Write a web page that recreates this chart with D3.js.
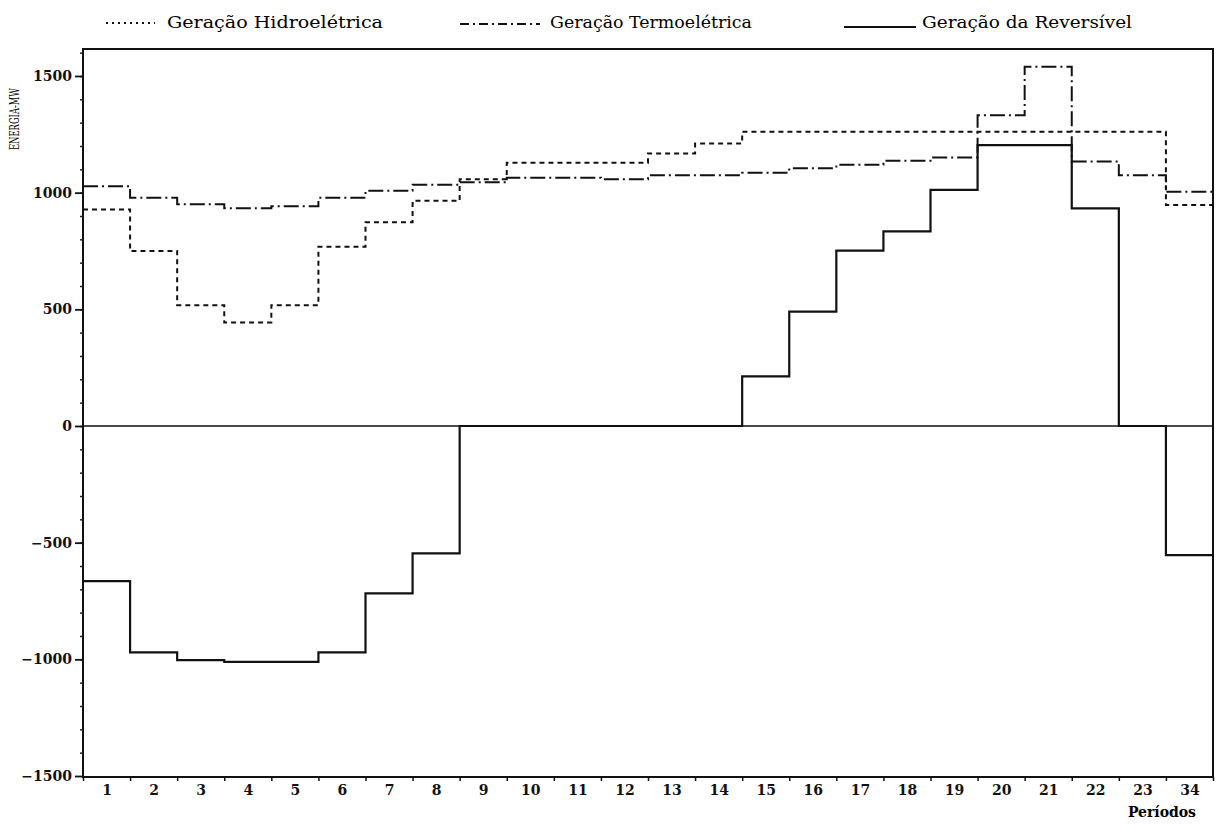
<!DOCTYPE html>
<html>
<head>
<meta charset="utf-8">
<script src="https://cdn.jsdelivr.net/npm/d3@7"></script>
<style>
  body { margin: 0; background: #fff; }
  svg { display: block; }
</style>
</head>
<body>
<svg width="1216" height="829"></svg>
<script>
// dados (MW por periodo)
var periodos = ["1","2","3","4","5","6","7","8","9","10","11","12","13","14","15","16","17","18","19","20","21","22","23","34"];
var hidro = [928, 750, 518, 444, 518, 768, 873, 965, 1058, 1128, 1128, 1128, 1168, 1211, 1261, 1261, 1261, 1261, 1261, 1261, 1261, 1261, 1261, 947];
var termo = [1028, 978, 950, 933, 942, 978, 1008, 1034, 1045, 1064, 1064, 1058, 1075, 1075, 1085, 1105, 1120, 1137, 1151, 1332, 1540, 1134, 1075, 1004];
var reversivel = [-665, -970, -1003, -1011, -1011, -970, -717, -546, 0, 0, 0, 0, 0, 0, 213, 490, 752, 834, 1012, 1204, 1204, 933, 0, -553];
var yTicks = [1500, 1000, 500, 0, -500, -1000, -1500];

var pLeft = 83, pRight = 1213, pTop = 49, pBottom = 777;
var fonte = "'DejaVu Serif', 'Liberation Serif', serif";

var svg = d3.select("svg");

var x = d3.scaleLinear().domain([0, periodos.length]).range([pLeft, pRight]);
var y = d3.scaleLinear().domain([-1500, 1500]).range([776, 76]);

// moldura
svg.append("rect")
  .attr("x", pLeft).attr("y", pTop)
  .attr("width", pRight - pLeft).attr("height", pBottom - pTop)
  .attr("fill", "none").attr("stroke", "#111").attr("stroke-width", 2);

// linha do zero
svg.append("line")
  .attr("x1", pLeft).attr("x2", pRight)
  .attr("y1", y(0)).attr("y2", y(0))
  .attr("stroke", "#111").attr("stroke-width", 1.6);

// eixo Y: traços menores a cada 100
svg.append("g").attr("transform", "translate(" + pLeft + ",0)")
  .call(d3.axisLeft(y).tickValues(d3.range(-1400, 1601, 100)).tickSize(3).tickFormat(""))
  .call(function(g) { g.select(".domain").remove(); })
  .selectAll("line").attr("stroke", "#222").attr("stroke-width", 1.5);

var yAxis = svg.append("g").attr("transform", "translate(" + pLeft + ",0)")
  .call(d3.axisLeft(y).tickValues(yTicks).tickSize(8).tickPadding(3).tickFormat(d3.format("d")));
yAxis.select(".domain").remove();
yAxis.selectAll("line").attr("stroke", "#111").attr("stroke-width", 1.8);
yAxis.selectAll("text").attr("font-family", fonte).attr("font-size", 14).attr("font-weight", "bold").attr("fill", "#111");

// eixo X: traços nos limites dos periodos
svg.append("g").attr("transform", "translate(0," + pBottom + ")")
  .call(d3.axisBottom(x).tickValues(d3.range(0, periodos.length + 1)).tickSize(4).tickFormat(""))
  .call(function(g) { g.select(".domain").remove(); })
  .selectAll("line").attr("stroke", "#111").attr("stroke-width", 1.5);

var xAxis = svg.append("g").attr("transform", "translate(0," + pBottom + ")")
  .call(d3.axisBottom(x).tickValues(d3.range(periodos.length).map(function(i) { return i + 0.5; }))
    .tickSize(0).tickPadding(8).tickFormat(function(d, i) { return periodos[i]; }));
xAxis.select(".domain").remove();
xAxis.selectAll("text").attr("font-family", fonte).attr("font-size", 14).attr("font-weight", "bold").attr("fill", "#111");

svg.append("text")
  .attr("x", 1196).attr("y", 817)
  .attr("text-anchor", "end")
  .attr("font-family", fonte).attr("font-size", 14).attr("font-weight", "bold")
  .text("Períodos");

// titulo do eixo Y
svg.append("text")
  .attr("transform", "translate(19,119) rotate(-90)")
  .attr("text-anchor", "middle")
  .attr("font-family", fonte).attr("font-size", 12)
  .attr("textLength", 62).attr("lengthAdjust", "spacingAndGlyphs")
  .text("ENERGIA-MW");

// series em degraus
function passos(vals) {
  var pts = vals.map(function(v, i) { return [i, v]; });
  pts.push([vals.length, vals[vals.length - 1]]);
  return pts;
}
var linha = d3.line()
  .x(function(d) { return x(d[0]); })
  .y(function(d) { return y(d[1]); })
  .curve(d3.curveStepAfter);

svg.append("path").datum(passos(hidro))
  .attr("d", linha).attr("fill", "none")
  .attr("stroke", "#111").attr("stroke-width", 2)
  .attr("stroke-dasharray", "5,4");

svg.append("path").datum(passos(termo))
  .attr("d", linha).attr("fill", "none")
  .attr("stroke", "#111").attr("stroke-width", 2)
  .attr("stroke-dasharray", "15,4,2,4");

svg.append("path").datum(passos(reversivel))
  .attr("d", linha).attr("fill", "none")
  .attr("stroke", "#111").attr("stroke-width", 2.2);

// legenda
var legenda = [
  {nome: "Geração Hidroelétrica", x1: 106, x2: 155, ly: 23, dash: "2,4", tx: 167, tl: 216},
  {nome: "Geração Termoelétrica", x1: 460, x2: 540, ly: 24, dash: "9,4,2,4", tx: 550, tl: 202},
  {nome: "Geração da Reversível", x1: 844, x2: 916, ly: 27, dash: null, tx: 922, tl: 210}
];
var leg = svg.append("g").selectAll("g").data(legenda).enter().append("g");
leg.append("line")
  .attr("x1", function(d) { return d.x1; }).attr("x2", function(d) { return d.x2; })
  .attr("y1", function(d) { return d.ly; }).attr("y2", function(d) { return d.ly; })
  .attr("stroke", "#111").attr("stroke-width", 2)
  .attr("stroke-dasharray", function(d) { return d.dash; });
leg.append("text")
  .attr("x", function(d) { return d.tx; }).attr("y", 28)
  .attr("font-family", fonte).attr("font-size", 16)
  .attr("textLength", function(d) { return d.tl; }).attr("lengthAdjust", "spacingAndGlyphs")
  .text(function(d) { return d.nome; });
</script>
</body>
</html>
